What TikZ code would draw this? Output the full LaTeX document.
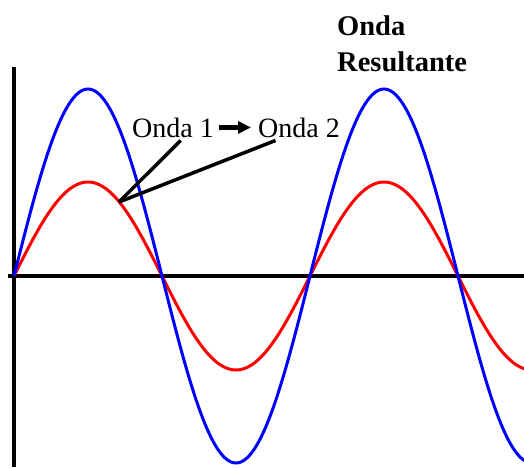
\documentclass[tikz,border=0pt]{standalone}
\usepackage{fontspec}
\setmainfont{Liberation Serif}
\usetikzlibrary{arrows.meta}
\tikzset{axisline/.style={line width=3.5pt, black},
  wavered/.style={line width=3pt, red, smooth},
  waveblue/.style={line width=3pt, blue, smooth},
  wavelabel/.style={inner sep=3pt, font=\fontsize{28}{32}\selectfont},
  pointer/.style={line width=3.5pt, black}}

\begin{document}
\begin{tikzpicture}[x=1pt, y=-1pt]
\useasboundingbox (0,0) rectangle (524,467);
\draw[axisline] (14,67) -- (14,467);
\draw[axisline] (8,276) -- (524,276);
\draw[wavered] plot[domain=14:530, samples=220] (\x, {276-94*sin((\x-14)/296*360)});
\draw[waveblue] plot[domain=14:530, samples=220] (\x, {276-187*sin((\x-14)/296*360)});
\node[wavelabel, anchor=base west] (onda1) at (129,137) {Onda 1};
\node[wavelabel, anchor=base west] (onda2) at (255,137) {Onda 2};
\node[wavelabel, anchor=north west, align=left, font=\bfseries\fontsize{28.5}{36}\selectfont] (resultante) at (334,13) {Onda\\Resultante};
\coordinate (tip) at (119,202);
\draw[line width=5.5pt, -{Triangle[length=13pt, width=12pt]}, shorten <=2pt, shorten >=4pt] (onda1.east) -- (onda2.west);
\draw[pointer] (onda1.-60) -- (tip);
\draw[pointer] (onda2.-151) -- (tip);
\end{tikzpicture}
\end{document}
